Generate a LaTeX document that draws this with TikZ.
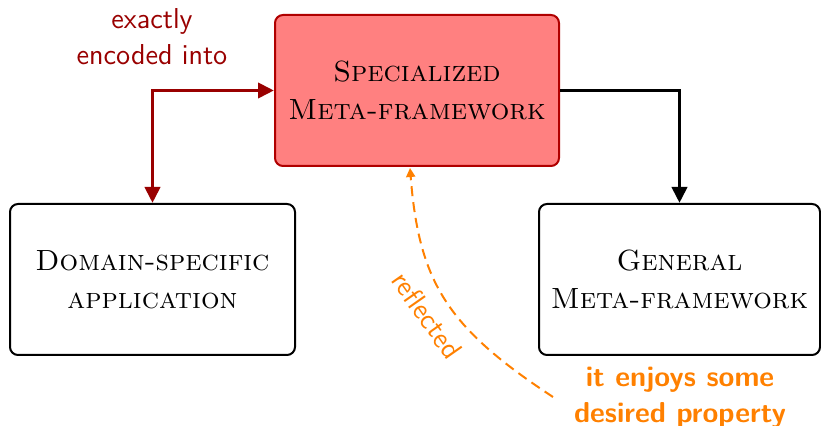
\documentclass[tikz,border=0pt]{standalone}
\usetikzlibrary{arrows.meta}
\definecolor{dred}{HTML}{990000}
\definecolor{boxred}{HTML}{FF8080}
\definecolor{boxborder}{HTML}{B00000}
\definecolor{myorange}{HTML}{FF8000}
\begin{document}
\begin{tikzpicture}[x=0.5pt,y=-0.5pt,
  box/.style={draw=black, line width=1pt, rounded corners=4pt, align=center,
    font=\fontsize{14.6}{19}\selectfont\scshape, inner sep=0pt},
  lbl/.style={font=\sffamily\Large, align=center}]
\useasboundingbox (0,0) rectangle (821,426);
\node[box, fill=boxred, draw=boxborder, minimum width=142pt, minimum height=75.5pt] (spec) at (417,90.5) {Specialized\\Meta-framework};
\node[box, minimum width=142.5pt, minimum height=75.5pt] (dom) at (152.5,279.5) {Domain-specific\\application};
\node[box, minimum width=140.5pt, minimum height=75.5pt] (gen) at (679.5,279.5) {General\\Meta-framework};
\draw[dred, line width=1.9pt, {Triangle[length=8pt,width=7.5pt]}-{Triangle[length=8pt,width=7.5pt]}] (spec.west) -| (dom.north);
\draw[black, line width=1.9pt, -{Triangle[length=8pt,width=7.5pt]}] (spec.east) -| (gen.north);
\node[lbl, text=dred] (enc) at (152,37) {exactly\\encoded into};
\node[lbl, text=myorange, font=\sffamily\Large\bfseries] (prop) at (680,398) {it enjoys some\\desired property};
\coordinate (cs) at (553,397);
\coordinate (ce) at (410,168);
\draw[myorange, line width=1pt, dash pattern=on 5pt off 3pt, -{Triangle[length=4.5pt,width=4.5pt]}] (cs) .. controls (448,328) and (419,283) .. (ce);
\node[lbl, text=myorange, rotate=-55] (refl) at (427,315) {reflected};
\end{tikzpicture}
\end{document}
